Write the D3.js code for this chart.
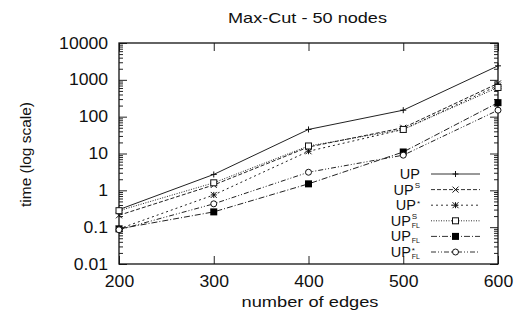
<!DOCTYPE html>
<html><head><meta charset="utf-8">
<script src="https://cdn.jsdelivr.net/npm/d3@7"></script>
<style>body{margin:0;background:#fff}svg{display:block}text{font-family:"Liberation Sans",Arial,sans-serif;fill:#111}</style>
</head><body><svg id="c" width="528" height="313"></svg>
<script>
const edges = [200, 300, 400, 500, 600];
const upVals    = [0.3, 2.7, 45, 150, 2400];
const upS       = [0.21, 1.4, 15, 50, 800];
const upStar    = [0.09, 0.75, 11.5, 45, 700];
const upSFL     = [0.28, 1.6, 16, 45, 620];
const upFL      = [0.09, 0.26, 1.5, 11, 240];
const upStarFL  = [0.085, 0.43, 3.1, 9, 150];
const yTicks = [0.01, 0.1, 1, 10, 100, 1000, 10000];
const yTickLabels = ["0.01", "0.1", "1", "10", "100", "1000", "10000"];

const series = [
  {sup:"", sub:"", vals:upVals, dash:null, mark:"plus"},
  {sup:"S", sub:"", vals:upS, dash:"4,2", mark:"cross"},
  {sup:"*", sub:"", vals:upStar, dash:"2,3", mark:"star"},
  {sup:"S", sub:"FL", vals:upSFL, dash:"1,1.5", mark:"square"},
  {sup:"", sub:"FL", vals:upFL, dash:"6,2,1,2", mark:"fsquare"},
  {sup:"*", sub:"FL", vals:upStarFL, dash:"5,2,1,2,1,2", mark:"circle"}
];

const svg = d3.select("#c");
const L=119, R=498, T=43, B=264;
const x = d3.scaleLinear().domain([200,600]).range([L,R]);
const y = d3.scaleLog().domain([0.01,10000]).range([B,T]);
const g = svg.append("g");

const minor = [];
for (let e=-2;e<4;e++) for (let k=2;k<10;k++) minor.push(k*Math.pow(10,e));
g.append("g").attr("transform",`translate(${L},0)`).call(d3.axisLeft(y).tickValues(minor).tickSize(-4).tickFormat(""))
 .call(a=>a.select(".domain").remove());
g.append("g").attr("transform",`translate(${R},0)`).call(d3.axisRight(y).tickValues(minor).tickSize(-4).tickFormat(""))
 .call(a=>a.select(".domain").remove());
const yl = g.append("g").attr("transform",`translate(${L},0)`).call(d3.axisLeft(y).tickValues(yTicks).tickSize(-8).tickPadding(10).tickFormat((d,i)=>yTickLabels[i]));
yl.select(".domain").remove();
yl.selectAll("text").style("font-size","16px").attr("fill","#111").attr("transform","scale(1.1,1)");
g.append("g").attr("transform",`translate(${R},0)`).call(d3.axisRight(y).tickValues(yTicks).tickSize(-8).tickFormat("")).select(".domain").remove();
const xl = g.append("g").attr("transform",`translate(0,${B})`).call(d3.axisBottom(x).tickValues(edges).tickSize(-8).tickPadding(12).tickFormat(d3.format("d")));
xl.select(".domain").remove();
xl.selectAll("text").style("font-size","16px").attr("fill","#111").attr("transform","scale(1.1,1)");
g.append("g").attr("transform",`translate(0,${T})`).call(d3.axisTop(x).tickValues(edges).tickSize(-8).tickFormat("")).select(".domain").remove();
g.selectAll(".tick line").attr("stroke","#222");
g.append("rect").attr("x",L).attr("y",T).attr("width",R-L).attr("height",B-T).attr("fill","none").attr("stroke","#111").attr("stroke-width",1.3);

function marker(sel, type, cx, cy){
  const s=3;
  if(type==="plus"){ sel.append("path").attr("d",`M${cx-s},${cy}H${cx+s}M${cx},${cy-s}V${cy+s}`).attr("stroke","#111"); }
  else if(type==="cross"){ sel.append("path").attr("d",`M${cx-s},${cy-s}L${cx+s},${cy+s}M${cx-s},${cy+s}L${cx+s},${cy-s}`).attr("stroke","#111"); }
  else if(type==="star"){ sel.append("path").attr("d",`M${cx-s},${cy}H${cx+s}M${cx},${cy-s}V${cy+s}M${cx-s},${cy-s}L${cx+s},${cy+s}M${cx-s},${cy+s}L${cx+s},${cy-s}`).attr("stroke","#111"); }
  else if(type==="square"){ sel.append("rect").attr("x",cx-3).attr("y",cy-3).attr("width",6).attr("height",6).attr("fill","#fff").attr("stroke","#111"); }
  else if(type==="fsquare"){ sel.append("rect").attr("x",cx-3.5).attr("y",cy-3.5).attr("width",7).attr("height",7).attr("fill","#000"); }
  else if(type==="circle"){ sel.append("circle").attr("cx",cx).attr("cy",cy).attr("r",3).attr("fill","#fff").attr("stroke","#111"); }
}

const line = d3.line().x((d,i)=>x(edges[i])).y(d=>y(d));
const plot = svg.append("g");
series.forEach(s=>{
  plot.append("path").attr("d",line(s.vals)).attr("fill","none").attr("stroke","#222").attr("stroke-width",1)
    .attr("stroke-dasharray",s.dash);
  s.vals.forEach((v,i)=>marker(plot,s.mark,x(edges[i]),y(v)));
});

// legend
const lg = svg.append("g");
series.forEach((s,i)=>{
  const yy = 174 + i*15.6;
  const right = 420;
  let supT=null, subT=null, w=0;
  if(s.sup){ supT = lg.append("text").attr("y", s.sup==="*" ? yy+0.5 : yy-1.5).style("font-size","8px").text(s.sup); w=Math.max(w,supT.node().getComputedTextLength()); }
  if(s.sub){ subT = lg.append("text").attr("y",yy+7).style("font-size","7px").text(s.sub); w=Math.max(w,subT.node().getComputedTextLength()); }
  const ux = right - (w ? w+1 : 0);
  lg.append("text").attr("x",ux).attr("y",yy+5).attr("text-anchor","end").style("font-size","14.5px").text("UP");
  if(supT) supT.attr("x",ux+1);
  if(subT) subT.attr("x",ux+1);
  lg.append("line").attr("x1",431).attr("x2",480).attr("y1",yy).attr("y2",yy).attr("stroke","#333").attr("stroke-dasharray",s.dash);
  marker(lg,s.mark,455.5,yy);
});

svg.append("text").attr("x",307.5).attr("y",23).attr("text-anchor","middle").style("font-size","15px")
  .attr("textLength",159).attr("lengthAdjust","spacingAndGlyphs").text("Max-Cut - 50 nodes");
svg.append("text").attr("x",310).attr("y",306.5).attr("text-anchor","middle").style("font-size","15px")
  .attr("textLength",137).attr("lengthAdjust","spacingAndGlyphs").text("number of edges");
svg.append("text").attr("transform","translate(31,154.5) rotate(-90)").attr("text-anchor","middle").style("font-size","15px")
  .attr("textLength",105).attr("lengthAdjust","spacingAndGlyphs").text("time (log scale)");
</script></body></html>
